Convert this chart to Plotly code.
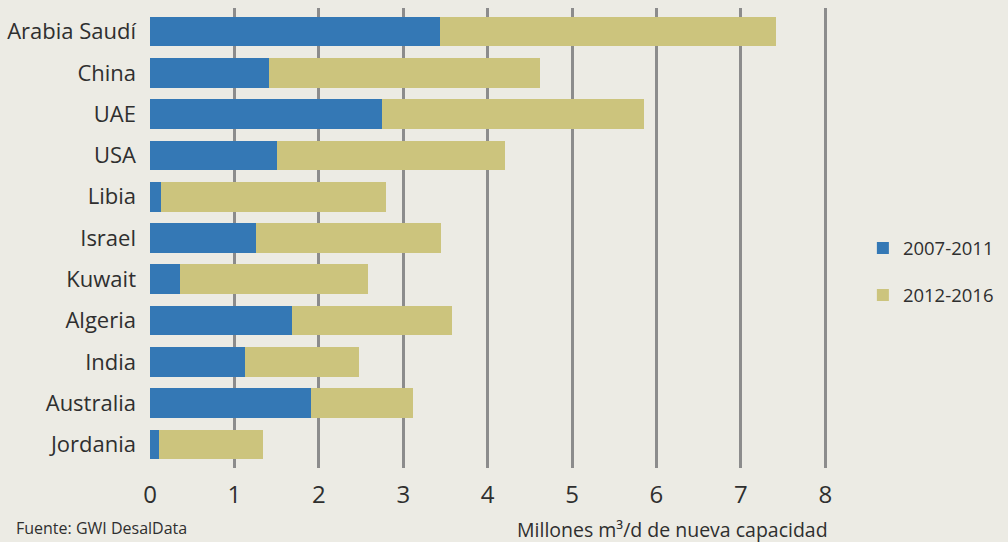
import plotly.graph_objects as go

countries = ["Arabia Saudí", "China", "UAE", "USA", "Libia", "Israel", "Kuwait",
             "Algeria", "India", "Australia", "Jordania"]
cap_2007_2011 = [3.44, 1.41, 2.75, 1.50, 0.13, 1.26, 0.35, 1.68, 1.12, 1.91, 0.11]
total_capacity = [7.41, 4.62, 5.85, 4.20, 2.79, 3.45, 2.58, 3.58, 2.47, 3.12, 1.34]
cap_2012_2016 = [round(t - a, 2) for t, a in zip(total_capacity, cap_2007_2011)]
x_ticks = [0, 1, 2, 3, 4, 5, 6, 7, 8]

BG = "#ECEBE4"
BLUE = "#3478B5"
KHAKI = "#CCC47D"
TXT = "#2f2f2f"
FONT = "Open Sans"

fig = go.Figure()
fig.add_trace(go.Bar(y=countries, x=cap_2007_2011, orientation="h", name="2007-2011",
                     marker=dict(color=BLUE, line=dict(width=0)), legendgroup="a"))
fig.add_trace(go.Bar(y=countries, x=cap_2012_2016, orientation="h", name="2012-2016",
                     marker=dict(color=KHAKI, line=dict(width=0)), legendgroup="b"))

fig.update_layout(
    width=1008, height=542,
    paper_bgcolor=BG, plot_bgcolor=BG,
    barmode="stack", bargap=0.28,
    margin=dict(l=150, r=181, t=8, b=74, autoexpand=False),
    font=dict(family=FONT, color=TXT),
    legend=dict(x=1.053, xanchor="left", y=0.426, yanchor="middle",
                traceorder="grouped", tracegroupgap=20,
                font=dict(size=18.5, color=TXT), bgcolor="rgba(0,0,0,0)"),
    xaxis=dict(range=[0, 8.02], tickvals=x_ticks, showgrid=True, gridcolor="#8c8c8c",
               gridwidth=2.5, zeroline=False, showline=False, automargin=False,
               ticks="", ticklabelstandoff=10,
               tickfont=dict(size=24, color=TXT), fixedrange=True),
    yaxis=dict(categoryorder="array", categoryarray=countries[::-1],
               showgrid=False, zeroline=False, showline=False, automargin=False,
               ticks="", ticklabelstandoff=13,
               tickfont=dict(size=22, color=TXT), range=[-0.57, 10.57],
               fixedrange=True),
    annotations=[
        dict(text="Millones m³/d de nueva capacidad", xref="paper", yref="paper",
             x=1.005, y=-0.1, xanchor="right", yanchor="top", showarrow=False,
             font=dict(size=19.5, color=TXT)),
        dict(text="Fuente: GWI DesalData", xref="paper", yref="paper",
             x=-0.201, y=-0.103, xanchor="left", yanchor="top", showarrow=False,
             font=dict(size=16, color=TXT)),
    ],
)

fig.write_html(
    "out.html",
    config={"displayModeBar": False},
    post_script="document.body.style.margin='0';document.body.style.background='#ECEBE4';",
)
